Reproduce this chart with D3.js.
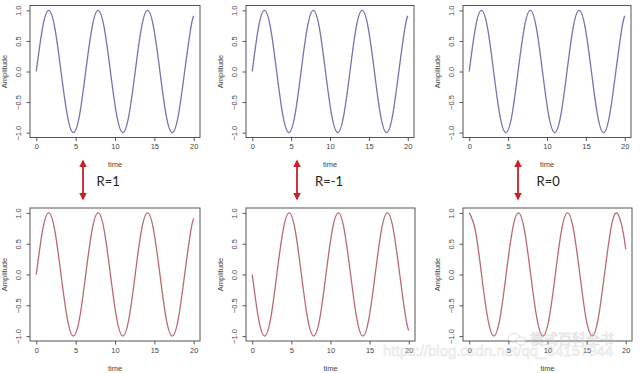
<!DOCTYPE html>
<html>
<head>
<meta charset="utf-8">
<script src="https://cdn.jsdelivr.net/npm/d3@7"></script>
<style>
  html, body { margin: 0; padding: 0; background: #fff; }
  svg { display: block; }
</style>
</head>
<body>
<svg id="chart" width="640" height="373"></svg>
<script>
// ---- data ----
const time = [0, 0.79, 1.57, 2.36, 3.14, 3.93, 4.71, 5.50, 6.28, 7.07, 7.85, 8.64, 9.42, 10.21,
              11.00, 11.78, 12.57, 13.35, 14.14, 14.92, 15.71, 16.49, 17.28, 18.06, 18.85, 19.63, 20];
const ampSin = [0, 0.71, 1, 0.71, 0, -0.71, -1, -0.71, 0, 0.71, 1, 0.71, 0, -0.71,
                -1, -0.71, 0, 0.71, 1, 0.71, 0, -0.71, -1, -0.71, 0, 0.71, 0.91];
const ampNegSin = [0, -0.71, -1, -0.71, 0, 0.71, 1, 0.71, 0, -0.71, -1, -0.71, 0, 0.71,
                   1, 0.71, 0, -0.71, -1, -0.71, 0, 0.71, 1, 0.71, 0, -0.71, -0.91];
const ampCos = [1, 0.71, 0, -0.71, -1, -0.71, 0, 0.71, 1, 0.71, 0, -0.71, -1, -0.71,
                0, 0.71, 1, 0.71, 0, -0.71, -1, -0.71, 0, 0.71, 1, 0.71, 0.41];
const xTicks = [0, 5, 10, 15, 20];
const yTicks = [-1.0, -0.5, 0.0, 0.5, 1.0];
const relLabels = ["R=1", "R=-1", "R=0"];
const xLabel = "time";
const yLabel = "Amplitude";

// ---- layout ----
const svg = d3.select("#chart");
const topColor = "#7573b0";
const botColor = "#b96a70";

const panels = [
  { box: [30, 200, 5.5, 137.5], series: ampSin, color: topColor },
  { box: [246, 414, 5.5, 137.5], series: ampSin, color: topColor },
  { box: [463, 631, 5.5, 137.5], series: ampSin, color: topColor },
  { box: [30, 200, 208, 341], series: ampSin, color: botColor },
  { box: [246, 415, 208, 341], series: ampNegSin, color: botColor },
  { box: [463, 632, 208, 341], series: ampCos, color: botColor }
];

const axisColor = "#555";
const fontTick = "Liberation Sans, Arial, sans-serif";

panels.forEach(p => {
  const [l, r, t, b] = p.box;
  const x = d3.scaleLinear().domain([-0.8, 20.8]).range([l, r]);
  const y = d3.scaleLinear().domain([-1.08, 1.08]).range([b, t]);
  const g = svg.append("g");

  const line = d3.line()
    .x((d, i) => x(time[i]))
    .y(d => y(d))
    .curve(d3.curveNatural);
  g.append("path")
    .datum(p.series)
    .attr("d", line)
    .attr("fill", "none")
    .attr("stroke", p.color)
    .attr("stroke-width", 1.3);

  g.append("rect")
    .attr("x", l).attr("y", t)
    .attr("width", r - l).attr("height", b - t)
    .attr("fill", "none")
    .attr("stroke", axisColor)
    .attr("stroke-width", 1);

  const xa = g.append("g")
    .attr("transform", `translate(0,${b})`)
    .call(d3.axisBottom(x).tickValues(xTicks).tickSize(3.5).tickPadding(3).tickFormat(d3.format("d")));
  xa.select(".domain").remove();
  xa.selectAll("line").attr("stroke", axisColor);
  xa.selectAll("text").attr("fill", "#444").style("font-family", fontTick).style("font-size", "7.5px");

  const ya = g.append("g")
    .attr("transform", `translate(${l},0)`)
    .call(d3.axisLeft(y).tickValues(yTicks).tickSize(3.5).tickFormat(d3.format(".1f")));
  ya.select(".domain").remove();
  ya.selectAll("line").attr("stroke", axisColor);
  ya.selectAll("text")
    .attr("fill", "#444")
    .style("font-family", fontTick).style("font-size", "7.5px")
    .attr("text-anchor", "middle")
    .attr("x", null).attr("dy", null)
    .attr("transform", "translate(-11,0) rotate(-90)")
    .attr("dominant-baseline", "middle");

  g.append("text")
    .attr("x", (l + r) / 2).attr("y", b + 29.5)
    .attr("text-anchor", "middle")
    .attr("fill", "#444")
    .style("font-family", fontTick).style("font-size", "7.5px")
    .text(xLabel);
  g.append("text")
    .attr("transform", `translate(${l - 25},${(t + b) / 2}) rotate(-90)`)
    .attr("text-anchor", "middle")
    .attr("dominant-baseline", "middle")
    .attr("fill", "#444")
    .style("font-family", fontTick).style("font-size", "7.5px")
    .text(yLabel);
});

// ---- red double arrows with labels ----
const arrowColor = "#cc1f27";
const defs = svg.append("defs");
["start", "end"].forEach(k => {
  defs.append("marker")
    .attr("id", "ah-" + k)
    .attr("viewBox", "0 0 10 10")
    .attr("refX", 8).attr("refY", 5)
    .attr("markerWidth", 4.2).attr("markerHeight", 4.2)
    .attr("orient", k === "start" ? "auto-start-reverse" : "auto")
    .append("path")
    .attr("d", "M0,0 L10,5 L0,10 Z")
    .attr("fill", arrowColor);
});
const arrowX = [83, 297, 518];
const labelX = [96.5, 315, 536.5];
arrowX.forEach((ax, i) => {
  svg.append("line")
    .attr("x1", ax).attr("x2", ax)
    .attr("y1", 161).attr("y2", 199)
    .attr("stroke", arrowColor)
    .attr("stroke-width", 1.8)
    .attr("marker-start", "url(#ah-start)")
    .attr("marker-end", "url(#ah-end)");
  svg.append("text")
    .attr("x", labelX[i]).attr("y", 185.5)
    .attr("fill", "#222")
    .style("font-family", "Lato, 'Open Sans', sans-serif")
    .style("font-size", "13px")
    .text(relLabels[i]);
});

// ---- faint watermark ----
const wm = svg.append("g").attr("opacity", 0.45);
wm.append("text")
  .attr("x", 383).attr("y", 356)
  .attr("fill", "#f4f4f4").attr("stroke", "#bbb").attr("stroke-width", 0.5)
  .style("font-family", "Liberation Sans, Arial, sans-serif")
  .style("font-size", "15px")
  .text("https://blog.csdn.net/qq_34157944");
wm.append("ellipse").attr("cx", 514).attr("cy", 338).attr("rx", 6).attr("ry", 4.5)
  .attr("fill", "#fff").attr("stroke", "#aaa").attr("stroke-width", 0.8);
wm.append("ellipse").attr("cx", 521).attr("cy", 341).attr("rx", 5).attr("ry", 4)
  .attr("fill", "#fff").attr("stroke", "#aaa").attr("stroke-width", 0.8);
wm.append("text")
  .attr("x", 530).attr("y", 344)
  .attr("fill", "#f4f4f4").attr("stroke", "#aaa").attr("stroke-width", 0.5)
  .style("font-family", "'Noto Sans CJK SC', sans-serif")
  .style("font-size", "14px")
  .text("模式百科全书");
</script>
</body>
</html>
